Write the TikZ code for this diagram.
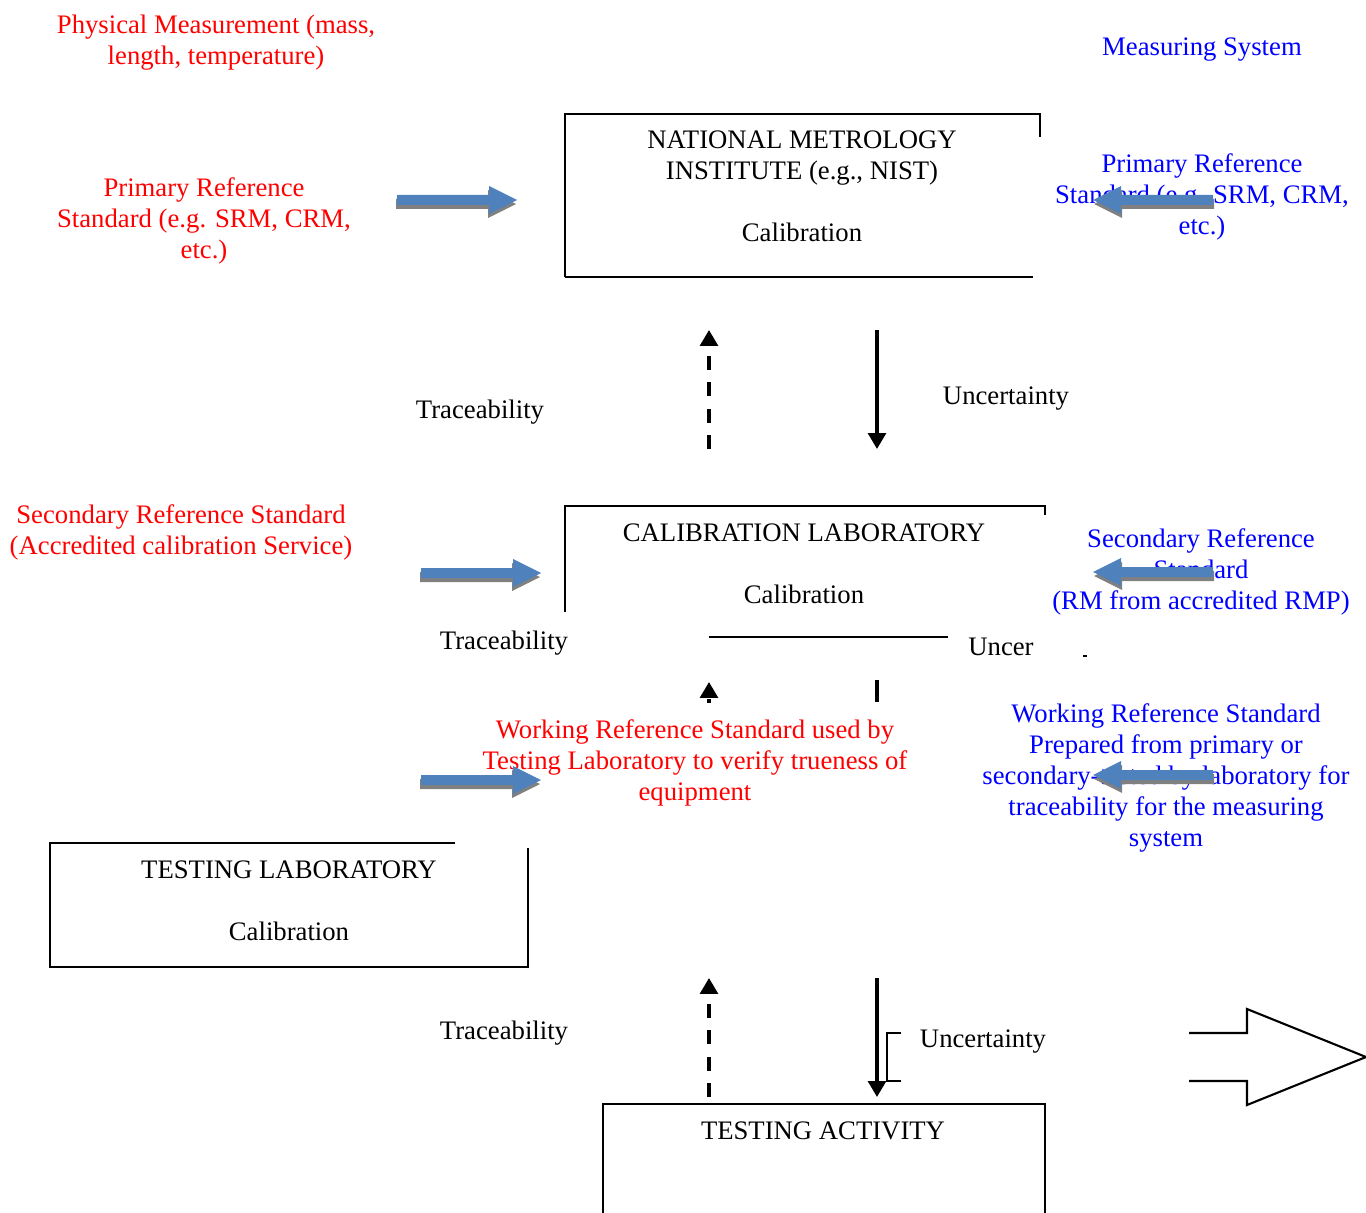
\documentclass[tikz,border=0pt]{standalone}
\usepackage{fontspec}
\setmainfont{Liberation Serif}
\usetikzlibrary{arrows.meta}
\definecolor{arrowblue}{RGB}{79,129,189}
\definecolor{shadowgray}{RGB}{128,128,128}

\tikzset{
  bluearrow/.pic={
    \fill[shadowgray] (-1,-1) -- (91,-1) -- (91,-10) -- (119,4) -- (91,18) -- (91,9) -- (-1,9) -- cycle;
    \fill[arrowblue] (0,-5) -- (92,-5) -- (92,-14) -- (120,0) -- (92,14) -- (92,5) -- (0,5) -- cycle;
  }
}

\begin{document}
\begin{tikzpicture}[x=0.02cm, y=-0.02cm,
    lbl/.style={font=\fontsize{15.2}{17.6}\selectfont, align=center, inner sep=0pt},
    redlbl/.style={lbl, text=red},
    bluelbl/.style={lbl, text=blue},
    frame/.style={inner sep=0pt},
    border/.style={line width=1.2pt},
    trace/.style={line width=2pt, dash pattern=on 8pt off 7pt, -{Triangle[length=9pt, width=10pt]}},
    uncert/.style={line width=2pt, -{Triangle[length=9pt, width=10pt]}}]
  \clip (0,0) rectangle (1366,1213);

  % boxes
  \node[name=nmi, frame, minimum width=9.5cm, minimum height=3.26cm] at (802.5,195.5) {};
  \draw[border] (nmi.south west) -- (nmi.north west) -- (nmi.north east) -- ++(0,23);
  \draw[border] (nmi.south west) -- ++(468,0);
  \node[name=nmitext, lbl] at (802,186) {NATIONAL METROLOGY\\ INSTITUTE (e.g., NIST)\\[17.6pt] Calibration};

  \node[name=cal, frame, minimum width=9.6cm, minimum height=2.62cm] at (805,571.5) {};
  \draw[border] (cal.north west) ++(0,106) -- ++(0,-106) -- (cal.north east) -- ++(0,9);
  \draw[border] (cal.south west) ++(144,0) -- ++(239,0);
  \node[name=caltext, lbl] at (804,564) {CALIBRATION LABORATORY\\[17.6pt] Calibration};

  \node[name=tlab, frame, minimum width=9.56cm, minimum height=2.48cm] at (289,905) {};
  \draw[border] (tlab.north west) ++(405,0) -- (tlab.north west) -- (tlab.south west) -- (tlab.south east) -- ++(0,-119);
  \node[name=tlabtext, lbl] at (289,901) {TESTING LABORATORY\\[17.6pt] Calibration};

  \node[name=act, frame, minimum width=8.84cm, minimum height=2.72cm] at (824,1172) {};
  \draw[border] (act.south west) -- (act.north west) -- (act.north east) -- (act.south east);
  \node[name=acttext, lbl] at (823,1131) {TESTING ACTIVITY};

  % red and blue texts
  \node[name=phys, redlbl] at (216,43) {Physical Measurement (mass,\\ length, temperature)};
  \node[name=meas, bluelbl] at (1202,50) {Measuring System};
  \node[name=priml, redlbl] at (204,221) {Primary Reference\\ Standard (e.g. SRM, CRM,\\ etc.)};
  \node[name=primr, bluelbl] at (1202,197) {Primary Reference\\ Standard (e.g. SRM, CRM,\\ etc.)};
  \node[name=secl, redlbl] at (181,532) {Secondary Reference Standard\\ (Accredited calibration Service)};
  \node[name=secr, bluelbl] at (1201,572) {Secondary Reference\\ Standard\\ (RM from accredited RMP)};
  \node[name=workl, redlbl] at (695,763) {Working Reference Standard used by\\ Testing Laboratory to verify trueness of\\ equipment};
  \node[name=workr, bluelbl] at (1166,778) {Working Reference Standard\\ Prepared from primary or\\ secondary-tested by laboratory for\\ traceability for the measuring\\ system};

  % traceability and uncertainty
  \node[name=trace1, lbl] at (480,412) {Traceability};
  \node[name=unc1, lbl] at (1006,399) {Uncertainty};
  \node[name=trace2, lbl] at (504,643) {Traceability};
  \node[name=unc2, lbl] at (1001,647) {Uncer};
  \node[name=trace3, lbl] at (504,1033) {Traceability};
  \node[name=unc3, lbl] at (983,1042) {Uncertainty};

  \coordinate (t1a) at (709,449);
  \coordinate (t1b) at (709,330);
  \coordinate (u1a) at (877,330);
  \coordinate (u1b) at (877,449);
  \draw[trace] (t1a) -- (t1b);
  \draw[uncert] (u1a) -- (u1b);

  \coordinate (t2a) at (709,703);
  \coordinate (t2b) at (709,682);
  \coordinate (u2a) at (877,680);
  \coordinate (u2b) at (877,702);
  \draw[trace, dash pattern=on 2pt off 1.5pt] (t2a) -- (t2b);
  \draw[line width=2pt] (u2a) -- (u2b);
  \draw[line width=0.8pt] (1083,656) -- (1087,656);

  \coordinate (t3a) at (709,1097);
  \coordinate (t3b) at (709,978);
  \coordinate (u3a) at (877,978);
  \coordinate (u3b) at (877,1097);
  \draw[trace] (t3a) -- (t3b);
  \draw[uncert] (u3a) -- (u3b);
  \draw[border] (901,1033) -- (887,1033) -- (887,1081) -- (901,1081);

  % block arrows
  \pic at (397,200) {bluearrow};
  \pic[xscale=-1] at (1213,200) {bluearrow};
  \pic at (421,573) {bluearrow};
  \pic[xscale=-1] at (1213,572) {bluearrow};
  \pic at (421,780) {bluearrow};
  \pic[xscale=-1] at (1213,775) {bluearrow};

  \draw[border] (1189,1033) -- (1247,1033) -- (1247,1009) -- (1366,1057) -- (1247,1105) -- (1247,1081) -- (1189,1081);
\end{tikzpicture}
\end{document}
